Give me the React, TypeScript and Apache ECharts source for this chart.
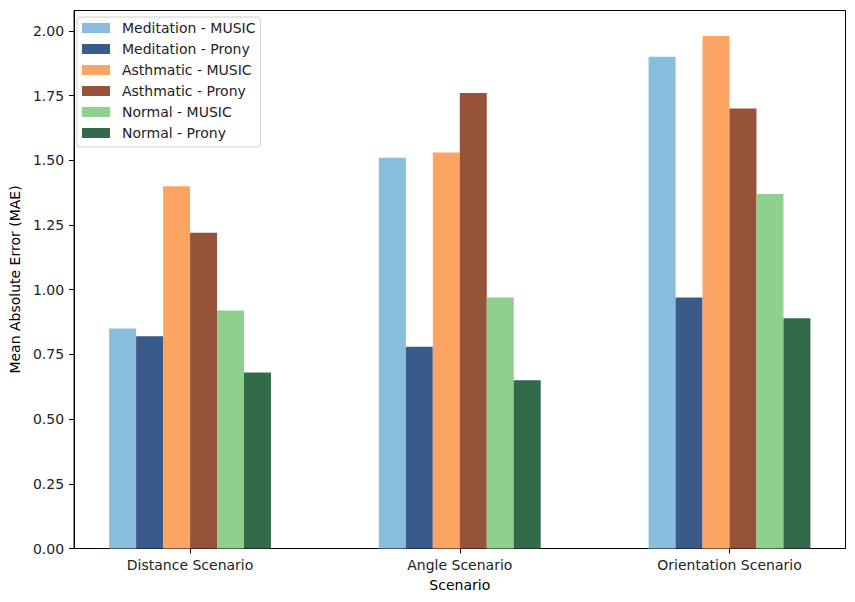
import React, { useEffect, useRef } from "react";
import * as echarts from "echarts";

const categories = ["Distance Scenario", "Angle Scenario", "Orientation Scenario"];
const seriesNames = [
  "Meditation - MUSIC",
  "Meditation - Prony",
  "Asthmatic - MUSIC",
  "Asthmatic - Prony",
  "Normal - MUSIC",
  "Normal - Prony",
];
const meditationMusic = [0.85, 1.51, 1.9];
const meditationProny = [0.82, 0.78, 0.97];
const asthmaticMusic = [1.4, 1.53, 1.98];
const asthmaticProny = [1.22, 1.76, 1.7];
const normalMusic = [0.92, 0.97, 1.37];
const normalProny = [0.68, 0.65, 0.89];
const yTicks = [0, 0.25, 0.5, 0.75, 1.0, 1.25, 1.5, 1.75, 2.0];

const seriesValues = [meditationMusic, meditationProny, asthmaticMusic, asthmaticProny, normalMusic, normalProny];
const colors = ["#88bedc", "#3a5a8a", "#fca462", "#96533a", "#90d08f", "#336a4a"];

const BAR_W = 0.1;

export default function App() {
  const ref = useRef<HTMLDivElement>(null);
  useEffect(() => {
    if (!ref.current) return;
    const chart = echarts.init(ref.current, null, { renderer: "svg" });
    const font = "DejaVu Sans";
    const series = seriesNames.map((name, i) => ({
      type: "custom",
      name,
      itemStyle: { color: colors[i] },
      data: seriesValues[i].map((v, c) => [c, v]),
      encode: { x: 0, y: 1 },
      renderItem: (params: any, api: any) => {
        const xc = api.value(0) + (-0.25 + i * BAR_W);
        const y = api.value(1);
        const p0 = api.coord([xc - BAR_W / 2, y]);
        const p1 = api.coord([xc + BAR_W / 2, 0]);
        return {
          type: "rect",
          shape: { x: p0[0], y: p0[1], width: p1[0] - p0[0], height: p1[1] - p0[1] },
          style: { fill: colors[i] },
        };
      },
    }));
    chart.setOption({
      animation: false,
      backgroundColor: "#ffffff",
      textStyle: { fontFamily: font },
      grid: {
        left: 70,
        right: 9.5,
        top: 10.5,
        bottom: 53.5,
        show: true,
        borderColor: "#000",
        borderWidth: 1,
        backgroundColor: "transparent",
      },
      legend: {
        orient: "vertical",
        left: 77,
        top: 17,
        backgroundColor: "#fff",
        borderColor: "#d0d0d0",
        borderWidth: 1,
        borderRadius: 3,
        padding: [3, 5, 6, 5],
        itemWidth: 28,
        itemHeight: 10,
        itemGap: 5,
        icon: "rect",
        data: seriesNames,
        textStyle: { fontFamily: font, fontSize: 14, color: "#222", lineHeight: 16, padding: [0, 0, 0, 7] },
      },
      xAxis: {
        type: "value",
        min: -0.43,
        max: 2.43,
        name: "Scenario",
        nameLocation: "middle",
        nameGap: 29,
        nameTextStyle: { fontFamily: font, fontSize: 14, color: "#000" },
        splitLine: { show: false },
        axisLine: { show: true, onZero: false, lineStyle: { color: "#000", width: 1 } },
        axisTick: { show: true, length: 5, customValues: [0, 1, 2], lineStyle: { color: "#000" } },
        axisLabel: {
          customValues: [0, 1, 2],
          margin: 9,
          fontFamily: font,
          fontSize: 14,
          color: "#222",
          formatter: (v: number) => categories[Math.round(v)] ?? "",
        },
      },
      yAxis: {
        type: "value",
        min: 0,
        max: 2.079,
        name: "Mean Absolute Error (MAE)",
        nameLocation: "middle",
        nameGap: 45,
        nameTextStyle: { fontFamily: font, fontSize: 14, color: "#000" },
        splitLine: { show: false },
        axisLine: { show: true, onZero: false, lineStyle: { color: "#000", width: 1 } },
        axisTick: { show: true, length: 5, customValues: yTicks, lineStyle: { color: "#000" } },
        axisLabel: {
          customValues: yTicks,
          margin: 10,
          fontFamily: font,
          fontSize: 14,
          color: "#222",
          formatter: (v: number) => v.toFixed(2),
        },
      },
      series,
    } as any);
    return () => chart.dispose();
  }, []);
  return <div ref={ref} style={{ width: 855, height: 602, margin: -8 }} />;
}
